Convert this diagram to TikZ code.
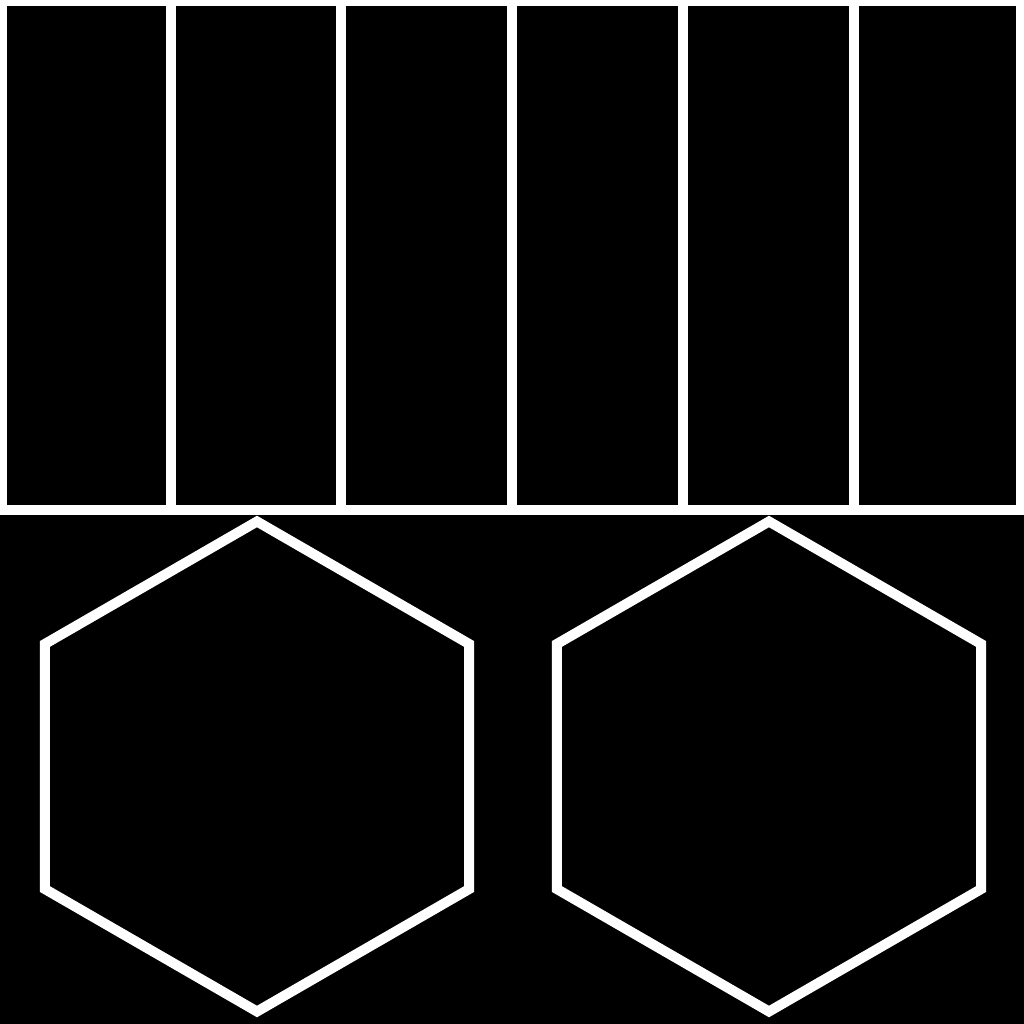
\documentclass[tikz,border=0pt]{standalone}
\begin{document}
\begin{tikzpicture}[
  x=0.25mm, y=-0.25mm,
  panel/.style={fill=white},
  cell/.style={fill=black},
  hexagon/.style={draw=white,line width=2.5mm,line join=miter}
]
\useasboundingbox (0,0) rectangle (1024,1024);
\fill[black] (0,0) rectangle (1024,1024);
% top band of cells
\fill[panel] (0,0) rectangle (1024,515);
\foreach \l/\r in {7/166,176/336,346/507,517/678,688/849,859/1016}
  \fill[cell] (\l,6) rectangle (\r,505);
% two hexagons
\foreach \cx in {257,769}
  \draw[hexagon,shift={(\cx,766.5)}]
    (90:245) -- (30:245) -- (-30:245) -- (-90:245) -- (-150:245) -- (150:245) -- cycle;
\end{tikzpicture}
\end{document}
